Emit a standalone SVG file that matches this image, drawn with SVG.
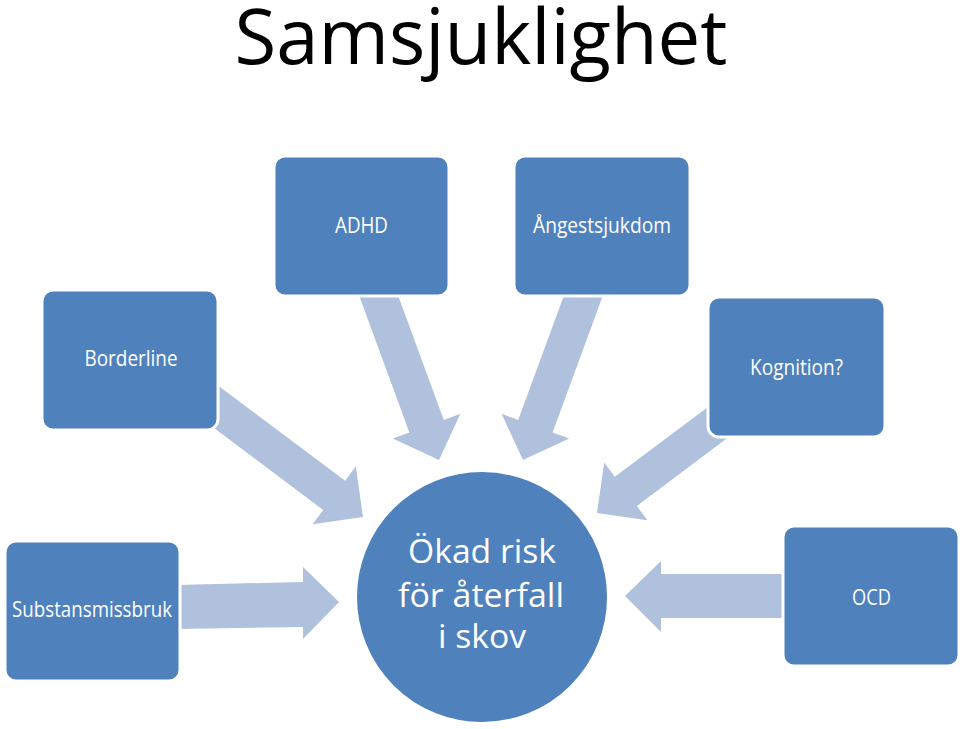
<svg xmlns="http://www.w3.org/2000/svg" width="960" height="729" viewBox="0 0 960 729">
<style>
.bg{fill:#ffffff}
.box{fill:#4F81BD;stroke:#ffffff;stroke-width:3}
.arr{fill:#B0C1DD}
.lbl{fill:#ffffff;font-family:"Open Sans","Noto Sans","DejaVu Sans",sans-serif;font-size:21px;text-anchor:middle}
.big{fill:#ffffff;font-family:"Open Sans","Noto Sans","DejaVu Sans",sans-serif;font-size:33px;text-anchor:middle}
.title{fill:#000000;font-family:"Open Sans","Noto Sans","DejaVu Sans",sans-serif;font-size:76px;text-anchor:middle}
</style>
<rect class="bg" x="0" y="0" width="960" height="729"/>
<text class="title" x="481" y="64" textLength="493" lengthAdjust="spacingAndGlyphs">Samsjuklighet</text>
<g id="connectors">
<polygon class="arr" points="392.4,280 443.8,419.9 460.4,413.8 439,460 392.8,438.6 409.4,432.5 358,292.6"/>
<polygon class="arr" points="569.6,280 518.2,419.9 501.6,413.8 523,460 569.2,438.6 552.6,432.5 604,292.6"/>
<polygon class="arr" points="746,378.4 614.8,476.8 604.2,462.6 597,513 647.4,520.2 636.8,506 768,407.6"/>
<polygon class="arr" points="214,382.4 345.2,480.8 355.8,466.6 363,517 312.6,524.2 323.2,510 192,411.6"/>
<polygon class="arr" points="176,585 303,582 303,567 339,602 303,639 303,627 176,629"/>
<polygon class="arr" points="787,574 661,574 661,561 625,596 661,632 661,618 787,618"/>
</g>
<g id="adhd">
<rect class="box" x="274" y="156" width="175" height="140" rx="11"/>
<text class="lbl" x="361.5" y="233" textLength="53" lengthAdjust="spacingAndGlyphs">ADHD</text>
</g>
<g id="angest">
<rect class="box" x="514" y="156" width="176" height="140" rx="11"/>
<text class="lbl" x="602" y="233" textLength="138" lengthAdjust="spacingAndGlyphs">Ångestsjukdom</text>
</g>
<g id="borderline">
<rect class="box" x="42" y="290" width="176" height="140" rx="11"/>
<text class="lbl" x="131" y="366" textLength="93" lengthAdjust="spacingAndGlyphs">Borderline</text>
</g>
<g id="kognition">
<rect class="box" x="708" y="297" width="177" height="140" rx="11"/>
<text class="lbl" x="796.5" y="375" textLength="93" lengthAdjust="spacingAndGlyphs">Kognition?</text>
</g>
<g id="substans">
<rect class="box" x="5" y="541" width="175" height="140" rx="11"/>
<text class="lbl" x="92" y="617" textLength="160" lengthAdjust="spacingAndGlyphs">Substansmissbruk</text>
</g>
<g id="ocd">
<rect class="box" x="783" y="526" width="176" height="140" rx="11"/>
<text class="lbl" x="871.5" y="605" textLength="39" lengthAdjust="spacingAndGlyphs">OCD</text>
</g>
<g id="center">
<circle cx="482" cy="597" r="126" fill="#4F81BD" stroke="#ffffff" stroke-width="2"/>
<text class="big" x="482" y="563" textLength="148" lengthAdjust="spacingAndGlyphs">Ökad risk</text>
<text class="big" x="481" y="607" textLength="166" lengthAdjust="spacingAndGlyphs">för återfall</text>
<text class="big" x="482" y="648" textLength="88" lengthAdjust="spacingAndGlyphs">i skov</text>
</g>
</svg>
